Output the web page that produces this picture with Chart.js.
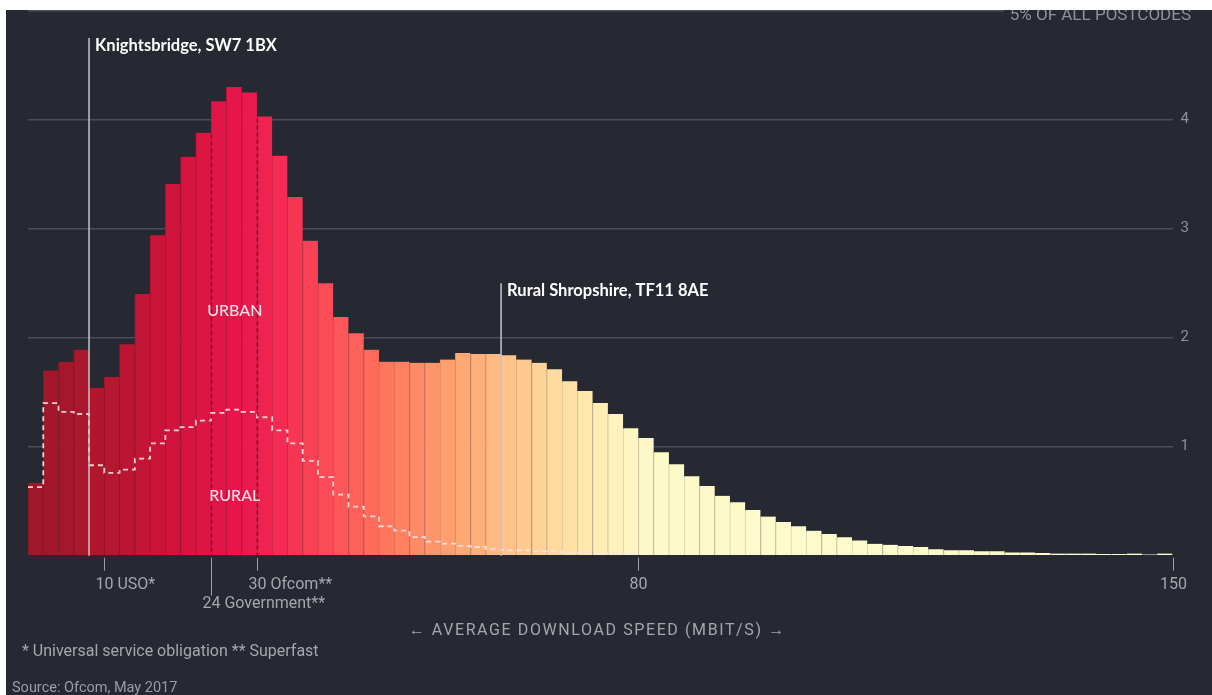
<!DOCTYPE html>
<html><head><meta charset="utf-8">
<script src="https://cdn.jsdelivr.net/npm/chart.js@4.4.1/dist/chart.umd.min.js"></script>
<style>html,body{margin:0;padding:0;background:#fff;}canvas{display:block;}</style>
</head><body>
<canvas id="c" width="1212" height="695"></canvas>
<script>
// ---- DATA ----
const binStart = [0,2,4,6,8,10,12,14,16,18,20,22,24,26,28,30,32,34,36,38,40,42,44,46,48,50,52,54,56,58,60,62,64,66,68,70,72,74,76,78,80,82,84,86,88,90,92,94,96,98,100,102,104,106,108,110,112,114,116,118,120,122,124,126,128,130,132,134,136,138,140,142,144,146,148];
const urbanShare = [0.67,1.70,1.78,1.89,1.54,1.64,1.94,2.40,2.94,3.41,3.66,3.88,4.17,4.30,4.25,4.03,3.67,3.29,2.89,2.50,2.19,2.04,1.89,1.78,1.78,1.77,1.77,1.80,1.86,1.85,1.85,1.84,1.80,1.77,1.71,1.60,1.51,1.40,1.30,1.17,1.08,0.95,0.84,0.73,0.64,0.55,0.49,0.42,0.36,0.31,0.27,0.23,0.20,0.17,0.14,0.11,0.10,0.09,0.08,0.06,0.05,0.05,0.04,0.04,0.03,0.03,0.025,0.02,0.02,0.02,0.015,0.015,0.02,0.012,0.02];
const ruralShare = [0.63,1.40,1.32,1.30,0.83,0.76,0.79,0.89,1.03,1.15,1.18,1.24,1.31,1.34,1.32,1.27,1.15,1.03,0.87,0.72,0.56,0.45,0.36,0.27,0.23,0.17,0.13,0.11,0.09,0.08,0.06,0.05,0.05,0.04,0.04,0.03,0.03,0.02,0.02,0.02];
const yTickValues = [1,2,3,4];
const yTopLabel = '5% OF ALL POSTCODES';
const xTickValues = [10,24,30,80,150];
const xTickNumbers = ['10','24','30','80','150'];
const xTickSuffix = [' USO*',' Government**',' Ofcom**','',''];
const dashedSpeeds = [24,30];
const postcodeSpeeds = [8,62];
const postcodeLabels = ['Knightsbridge, SW7 1BX','Rural Shropshire, TF11 8AE'];
const groupLabels = ['URBAN','RURAL'];
const axisTitle = '\u2190 AVERAGE DOWNLOAD SPEED (MBIT/S) \u2192';
const footnote = '* Universal service obligation ** Superfast';
const sourceNote = 'Source: Ofcom, May 2017';

// ---- STYLE ----
const BG = '#262931';
const colorStops = [[0,[156,24,40]],[10,[178,22,46]],[20,[212,20,62]],[28,[232,22,76]],[34,[246,48,84]],[40,[252,82,88]],[46,[255,112,92]],[52,[255,146,104]],[58,[255,172,118]],[64,[255,198,140]],[70,[255,222,162]],[76,[255,240,186]],[82,[253,250,202]],[150,[252,252,205]]];
function lerpColor(v, k){
  let a = colorStops[0], b = colorStops[colorStops.length-1];
  for (let i=0;i<colorStops.length-1;i++){ if (v>=colorStops[i][0] && v<=colorStops[i+1][0]) { a=colorStops[i]; b=colorStops[i+1]; break; } }
  const t = b[0]===a[0]?0:(v-a[0])/(b[0]-a[0]);
  const c = a[1].map((x,j)=>Math.round((x+(b[1][j]-x)*t)*k));
  return `rgb(${c[0]},${c[1]},${c[2]})`;
}
const barPoints = binStart.map((s,i)=>({x:s+1, y:urbanShare[i]}));
const barFill = binStart.map(s=>lerpColor(s+1,1));
const barEdge = binStart.map(s=>lerpColor(s+1,0.86));
const linePoints = ruralShare.map((v,i)=>({x:binStart[i], y:v}));
linePoints.push({x:binStart[ruralShare.length-1]+2, y:ruralShare[ruralShare.length-1]});

const SANS = 'Roboto, "Noto Sans", sans-serif';
const LABEL = 'Lato, "Open Sans", sans-serif';

const deco = {
  id:'deco',
  beforeDraw(chart){
    const c = chart.ctx;
    c.save();
    c.fillStyle = '#ffffff'; c.fillRect(0,0,chart.width,chart.height);
    c.fillStyle = BG; c.fillRect(6,10,chart.width-6,chart.height-10);
    c.restore();
  },
  afterDatasetsDraw(chart){
    const c = chart.ctx, x = chart.scales.x, y = chart.scales.y;
    c.save();
    // dashed speed lines over bars
    c.strokeStyle = 'rgba(105,8,32,0.75)'; c.lineWidth = 1.5; c.setLineDash([4,3]);
    dashedSpeeds.forEach(v=>{
      const i = binStart.indexOf(v);
      const top = Math.min(urbanShare[i-1], urbanShare[i]);
      const px = Math.round(x.getPixelForValue(v))+0.5;
      c.beginPath(); c.moveTo(px, y.getPixelForValue(top)+2); c.lineTo(px, y.getPixelForValue(0)); c.stroke();
    });
    c.setLineDash([]);
    // group labels
    c.fillStyle = '#fbe1e7'; c.font = '500 16px '+LABEL; c.textAlign='center'; c.textBaseline='middle';
    c.fillText(groupLabels[0], x.getPixelForValue(27.1), y.getPixelForValue(2.25));
    c.fillText(groupLabels[1], x.getPixelForValue(27.1), y.getPixelForValue(0.55));
    // postcode lines
    const tops = [4.75, 2.50];
    postcodeSpeeds.forEach((v,i)=>{
      const px = x.getPixelForValue(v);
      const py = y.getPixelForValue(tops[i]);
      c.strokeStyle = '#c3c6cc'; c.lineWidth = 1.5;
      c.beginPath(); c.moveTo(px, py); c.lineTo(px, y.getPixelForValue(0)); c.stroke();
      c.fillStyle = '#ffffff'; c.font = 'bold 16.5px '+LABEL; c.textAlign='left'; c.textBaseline='alphabetic';
      c.fillText(postcodeLabels[i], px+6, py+13);
    });
    c.restore();
  },
  afterDraw(chart){
    const c = chart.ctx, x = chart.scales.x, y = chart.scales.y;
    const base = y.getPixelForValue(0);
    c.save();
    // x ticks
    c.strokeStyle = '#9a9da3'; c.lineWidth = 1;
    c.fillStyle = '#a4a7ae'; c.font = '16px '+SANS; c.textBaseline='middle'; c.textAlign='left';
    xTickValues.forEach((v,i)=>{
      const px = Math.round(x.getPixelForValue(v))+0.5;
      const row = xTickSuffix[i].indexOf('Government')>=0 ? 1 : 0;
      c.beginPath(); c.moveTo(px, base+2); c.lineTo(px, base+(row?40:15)); c.stroke();
      const w = c.measureText(xTickNumbers[i]).width;
      c.fillText(xTickNumbers[i]+xTickSuffix[i], px - w/2, base + 29 + row*19);
    });
    // axis title
    c.textAlign='center';
    c.letterSpacing = '1.6px';
    c.fillText(axisTitle, x.getPixelForValue(74.6), 631);
    c.letterSpacing = '0px';
    c.textAlign='left';
    c.font = '16px '+SANS;
    c.fillText(footnote, 22, 652);
    c.font = '14.5px '+SANS; c.fillStyle = '#9a9da4';
    c.fillText(sourceNote, 12, 688);
    // top label
    const ty = y.getPixelForValue(5);
    c.fillStyle = BG; c.fillRect(1004, ty-8, 208, 16);
    c.fillStyle = '#8e9199'; c.font = '17px '+SANS; c.textAlign='right'; c.textBaseline='alphabetic';
    c.fillText(yTopLabel, 1191, ty+9.5);
    // white frame strip
    c.fillStyle = '#ffffff'; c.fillRect(0,0,chart.width,10); c.fillRect(0,0,6,chart.height);
    c.restore();
  }
};

new Chart(document.getElementById('c'), {
  type:'bar',
  data:{ datasets:[
    { type:'line', data:linePoints, stepped:'before', borderColor:'rgba(255,228,230,0.9)', borderWidth:1.8, borderDash:[5,4], pointRadius:0, fill:false },
    { type:'bar', data:barPoints, backgroundColor:barFill, borderColor:barEdge, borderWidth:{left:1,right:0,top:0,bottom:0}, borderSkipped:false, barPercentage:1, categoryPercentage:1, grouped:false }
  ]},
  options:{
    responsive:false, animation:false, devicePixelRatio:1,
    layout:{padding:{left:28, top:10.7, right:0, bottom:139.3}},
    plugins:{legend:{display:false}, tooltip:{enabled:false}},
    scales:{
      x:{type:'linear', min:0, max:150, display:false, offset:false},
      y:{position:'right', min:0, max:5,
         afterFit(s){ s.width = 39.5; s.paddingTop = 0; s.paddingBottom = 0; },
         border:{display:false},
         grid:{color:ctx=> (ctx.tick && ctx.tick.value===0) ? 'rgba(0,0,0,0)' : '#4b4f58', lineWidth:1.5, drawTicks:false},
         ticks:{stepSize:1, padding:8, color:'#8e9199', font:{family:'Roboto', size:15}, callback:v=> yTickValues.includes(v) ? String(v) : ''}
      }
    }
  },
  plugins:[deco]
});
</script>
</body></html>
